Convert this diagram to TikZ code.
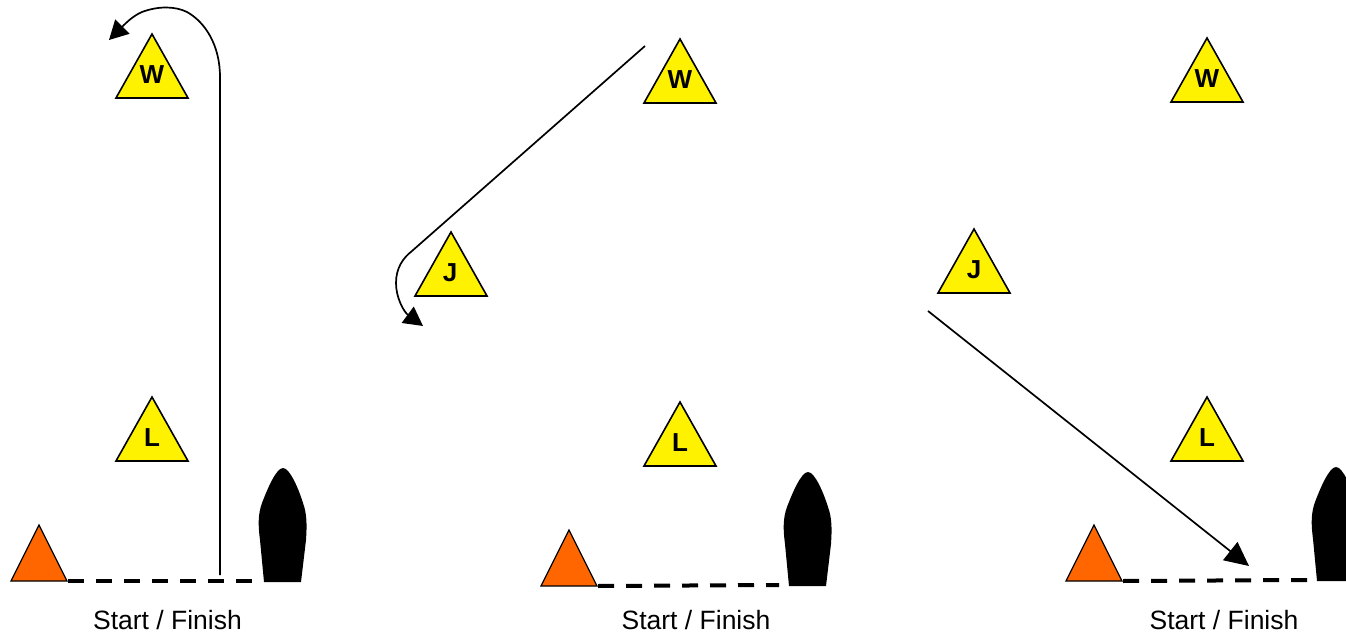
\documentclass[tikz,border=0pt]{standalone}
\usepackage{fontspec}
\setmainfont{Liberation Sans}
\usetikzlibrary{arrows.meta}
\tikzset{
  x=1pt,y=-1pt,
  course/.style={line width=1.7pt,line join=round,-{Triangle[length=19pt,width=20pt]}},
  longcourse/.style={line width=1.7pt,-{Triangle[length=24pt,width=23pt]}},
  startline/.style={line width=4pt,dash pattern=on 16pt off 12pt},
  marklabel/.style={font=\fontsize{26}{26}\selectfont\bfseries,inner sep=0pt,text=black},
  caption/.style={font=\fontsize{26.5}{27}\selectfont,inner sep=0pt,text=black},
  yellowbuoy/.style={fill=yellow,draw=black,line width=1.6pt,line join=miter},
  orangebuoy/.style={fill=buoyorange,draw=black,line width=1.3pt,line join=miter},
}
\definecolor{buoyorange}{RGB}{255,102,0}
% #1 name, #2 apex x, #3 apex y, #4 label, #5 label x shift
\newcommand{\ymark}[5]{%
  \path[yellowbuoy] (#2,#3) -- ++(36,64) -- ++(-72,0) -- cycle;
  \node[marklabel,anchor=base] (#1) at (#2+#5,#3+49.5) {#4};
}
% #1 name, #2 apex x, #3 apex y
\newcommand{\pinmark}[3]{%
  \path[orangebuoy] (#2,#3) -- ++(28,56) -- ++(-56,0) -- cycle;
  \coordinate (#1) at (#2+29,#3+56);
}
% #1 name, #2 x offset, #3 y offset
\newcommand{\boatshape}[3]{%
  \begin{scope}[shift={(#2,#3)}]
    \fill[black] (264,582) -- (260,540)
      .. controls (258,525) and (258,514) .. (262,503)
      .. controls (267,490) and (276,468) .. (283,468)
      .. controls (290,468) and (299,490) .. (303,503)
      .. controls (307,514) and (307,525) .. (306,540)
      -- (301,582) -- cycle;
    \coordinate (#1) at (254,581);
  \end{scope}
}
\begin{document}
\begin{tikzpicture}
\useasboundingbox (0,0) rectangle (1346,639);
% first diagram
\ymark{wa}{152}{34}{W}{0}
\ymark{la}{152}{397}{L}{0}
\pinmark{pa}{39}{525}
\boatshape{ba}{0}{0}
\draw[startline] (pa) -- (ba);
\node[caption,anchor=base] (ca) at (167.5,629) {Start / Finish};
\coordinate (a0) at (220,575);
\coordinate (a1) at (220,130);
\coordinate (a2) at (109,40);
\draw[course] (a0) -- (a1) -- (220,77)
  .. controls (220,45) and (205,22) .. (187,12)
  .. controls (175,6) and (158,6) .. (142,12)
  .. controls (132,16) and (122,27) .. (a2);
% second diagram
\ymark{wb}{680}{39}{W}{0}
\ymark{jb}{451}{232}{J}{-1}
\ymark{lb}{680}{402}{L}{0}
\pinmark{pb}{569}{530}
\boatshape{bb}{525}{4}
\draw[startline] (pb) -- (bb);
\node[caption,anchor=base] (cb) at (696,629) {Start / Finish};
\coordinate (b0) at (645,46);
\coordinate (b1) at (412,251);
\coordinate (b2) at (423,326);
\draw[course] (b0) -- (b1)
  .. controls (403,258) and (396,268) .. (396,283)
  .. controls (396,298) and (404,312) .. (b2);
% third diagram
\ymark{wc}{1207}{38}{W}{0}
\ymark{jc}{974}{229}{J}{0}
\ymark{lc}{1207}{397}{L}{0}
\pinmark{pc}{1094}{525}
\boatshape{bc}{1053}{-1}
\draw[startline] (pc) -- (bc);
\node[caption,anchor=base] (cc) at (1224,629) {Start / Finish};
\coordinate (c0) at (928,311);
\coordinate (c1) at (1249,566);
\draw[longcourse] (c0) -- (c1);
\end{tikzpicture}
\end{document}
